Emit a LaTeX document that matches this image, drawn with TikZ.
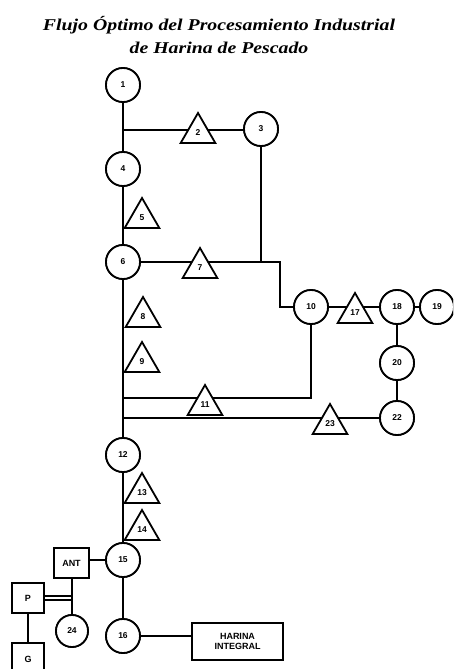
\documentclass[tikz,border=0pt]{standalone}
\usepackage{fontspec}
\setmainfont{Liberation Serif}
\newfontfamily\labelfont{Liberation Sans}
\usetikzlibrary{shapes.geometric}
\tikzset{
  every picture/.style={x=1pt,y=-1pt},
  wire/.style={line width=1.8pt,line join=miter},
  lbl/.style={font=\labelfont\bfseries\fontsize{8.5}{9}\selectfont},
  opcirc/.style={circle,draw,line width=1.8pt,fill=white,minimum size=34pt,inner sep=0pt,lbl},
  optri/.style={regular polygon,regular polygon sides=3,draw,line width=1.8pt,fill=white,
    minimum size=40pt,inner sep=0pt,lbl},
  opbox/.style={rectangle,draw,line width=1.8pt,fill=white,inner sep=0pt,
    font=\labelfont\bfseries\fontsize{9}{10}\selectfont,align=center},
  titlefont/.style={font=\bfseries\itshape\fontsize{16.5}{23}\selectfont,align=center}
}
\begin{document}
\begin{tikzpicture}
\useasboundingbox (0,0) rectangle (453,669);
\clip (0,0) rectangle (453,669);

% title, set slightly wide
\node[titlefont] (title) at (219,35)
  {\scalebox{1.2}[1]{Flujo Óptimo del Procesamiento Industrial}\\
   \scalebox{1.2}[1]{de Harina de Pescado}};

% circles (operations)
\node[opcirc] (c1)  at (123,85)  {1};
\node[opcirc] (c3)  at (261,129) {3};
\node[opcirc] (c4)  at (123,169) {4};
\node[opcirc] (c6)  at (123,262) {6};
\node[opcirc] (c10) at (311,307) {10};
\node[opcirc] (c18) at (397,307) {18};
\node[opcirc] (c19) at (437,307) {19};
\node[opcirc] (c20) at (397,363) {20};
\node[opcirc] (c22) at (397,418) {22};
\node[opcirc] (c12) at (123,455) {12};
\node[opcirc] (c15) at (123,560) {15};
\node[opcirc] (c16) at (123,636) {16};
\node[opcirc,minimum size=32pt] (c24) at (72,631) {24};

% boxes
\node[opbox,minimum width=35pt,minimum height=30pt] (ant) at (71.5,563) {ANT};
\node[opbox,minimum width=32pt,minimum height=30pt] (p) at (28,598) {P};
\node[opbox,minimum width=32pt,minimum height=32pt] (g) at (28,659) {G};
\node[opbox,minimum width=91pt,minimum height=37pt] (hi) at (237.5,641.5) {HARINA\\INTEGRAL};

% junction points
\coordinate (j2)  at (123,130);
\coordinate (j3)  at (261,262);
\coordinate (j7)  at (280,262);
\coordinate (j11) at (123,398);
\coordinate (j23) at (123,418);
\coordinate (jp)  at (72,596);
\coordinate (jq)  at (72,600);

% connectors
\draw[wire] (c1) -- (c4);
\draw[wire] (c4) -- (c6);
\draw[wire] (c6) -- (c12);
\draw[wire] (c12) -- (c15);
\draw[wire] (c15) -- (c16);
\draw[wire] (j2) -- (c3.west |- j2);
\draw[wire] (c3) -- (j3);
\draw[wire] (c6) -- (j7) -- (j7 |- c10) -- (c10);
\draw[wire] (c10) -- (c18);
\draw[wire] (c18) -- (c19);
\draw[wire] (c18) -- (c20);
\draw[wire] (c20) -- (c22);
\draw[wire] (c10) -- (c10 |- j11) -- (j11);
\draw[wire] (c22) -- (j23);
\draw[wire] (c15.west) -- (c15.west -| ant.east);
\draw[wire] (ant.south -| c24) -- (c24);
\draw[wire] (p.east |- jp) -- (jp);
\draw[wire] (p.east |- jq) -- (jq);
\draw[wire] (p) -- (g);
\draw[wire] (c16) -- (c16 -| hi.west);

% triangles (drawn over the lines)
\node[optri] (t2)  at (198,133) {2};
\node[optri] (t5)  at (142,218) {5};
\node[optri] (t7)  at (200,268) {7};
\node[optri] (t8)  at (143,317) {8};
\node[optri] (t9)  at (142,362) {9};
\node[optri] (t11) at (205,405) {11};
\node[optri] (t13) at (142,493) {13};
\node[optri] (t14) at (142,530) {14};
\node[optri] (t17) at (355,313) {17};
\node[optri] (t23) at (330,424) {23};

% redraw the circles on top of the connector ends
\foreach \x/\y/\t in {123/85/1,261/129/3,123/169/4,123/262/6,311/307/10,
  397/307/18,437/307/19,397/363/20,397/418/22,123/455/12,
  123/560/15,123/636/16}
  \node[opcirc] at (\x,\y) {\t};
\node[opcirc,minimum size=32pt] at (72,631) {24};
\end{tikzpicture}
\end{document}
